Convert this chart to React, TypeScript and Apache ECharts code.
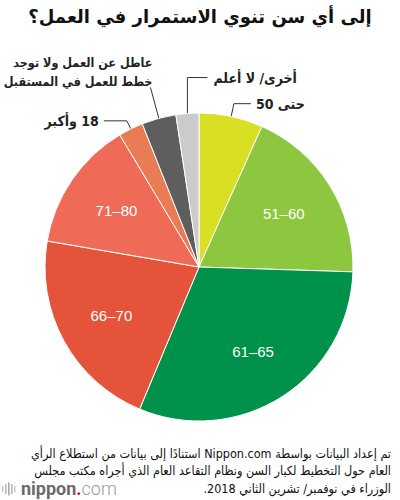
import React, { useEffect, useRef } from "react";
import * as echarts from "echarts";

const title = "إلى أي سن تنوي الاستمرار في العمل؟";
const categories = [
  "حتى 50",
  "51–60",
  "61–65",
  "66–70",
  "71–80",
  "18 وأكبر",
  "عاطل عن العمل ولا توجد\nخطط للعمل في المستقبل",
  "أخرى/ لا أعلم",
];
const values = [6.7, 18.8, 30.8, 21.4, 13.7, 2.6, 3.6, 2.4];
const colors = ["#d9df22", "#8dc63f", "#00924a", "#e4533a", "#f06b57", "#e97c55", "#5e5e5e", "#cbcbcb"];
const insideLabels = [1, 2, 3, 4];
const noteLines = [
  "تم إعداد البيانات بواسطة Nippon.com استنادًا إلى بيانات من استطلاع الرأي",
  "العام حول التخطيط لكبار السن ونظام التقاعد العام الذي أجراه مكتب مجلس",
  "الوزراء في نوفمبر/ تشرين الثاني 2018.",
];
const lineLengths = [
  [13, 17],
  [0, 0],
  [0, 0],
  [0, 0],
  [0, 0],
  [9, 23],
  [32, 0],
  [36, 20],
];

const rtl = (s: string) =>
  s
    .split("\n")
    .map((l) => "\u202B" + l + "\u202C")
    .join("\n");

const ARABIC = "'DejaVu Sans', sans-serif";
const ARABIC_C = "'DejaVu Sans Condensed', 'DejaVu Sans', sans-serif";

export default function App() {
  const ref = useRef<HTMLDivElement>(null);
  useEffect(() => {
    if (!ref.current) return;
    const chart = echarts.init(ref.current, null, { renderer: "svg" });
    const center = [199, 267];
    const r = 154;
    const mainData = values.map((v, i) => {
      const inside = insideLabels.includes(i);
      return {
        name: categories[i],
        value: v,
        itemStyle: { color: colors[i] },
        label: i === 6 ? { show: true, fontSize: 12.5, lineHeight: 19 } : { show: !inside },
        labelLine: { show: !inside, length: lineLengths[i][0], length2: lineLengths[i][1] },
      };
    });
    const labelData = values.map((v, i) => ({
      name: categories[i],
      value: v,
      label: { show: insideLabels.includes(i) },
    }));
    chart.setOption({
      animation: false,
      graphic: [
        {
          type: "text",
          x: 200,
          y: 16,
          style: {
            text: rtl(title),
            align: "center",
            verticalAlign: "middle",
            fontFamily: ARABIC,
            fontWeight: "bold",
            fontSize: 18,
            fill: "#111",
          },
        },
        {
          type: "text",
          x: 391,
          y: 470.5,
          style: {
            text: noteLines.map((l) => rtl(l)).join("\n"),
            align: "right",
            verticalAlign: "middle",
            fontFamily: ARABIC_C,
            fontSize: 12.5,
            lineHeight: 17.5,
            fill: "#111",
          },
        },
        {
          type: "group",
          x: 2,
          y: 489,
          children: [
            { type: "rect", shape: { x: 0, y: -3, width: 1.6, height: 6 }, style: { fill: "#ccc" } },
            { type: "rect", shape: { x: 3, y: -5, width: 1.6, height: 10 }, style: { fill: "#bbb" } },
            { type: "rect", shape: { x: 6, y: -6.5, width: 1.6, height: 13 }, style: { fill: "#aaa" } },
            { type: "rect", shape: { x: 9, y: -5, width: 1.6, height: 10 }, style: { fill: "#bbb" } },
            { type: "rect", shape: { x: 12, y: -3, width: 1.6, height: 6 }, style: { fill: "#ccc" } },
          ],
        },
        {
          type: "text",
          x: 21,
          y: 488,
          style: {
            text: "{a|nippon}{b|.}{c|com}",
            verticalAlign: "middle",
            rich: {
              a: { fontFamily: "Roboto", fontWeight: "bold", fontSize: 18, fill: "#6b6b6b" },
              b: { fontFamily: "Roboto", fontWeight: "bold", fontSize: 18, fill: "#e60012" },
              c: { fontFamily: "Roboto", fontWeight: 300, fontSize: 18, fill: "#9a9a9a" },
            },
          },
        },
      ],
      series: [
        {
          type: "pie",
          center,
          radius: r,
          startAngle: 90,
          clockwise: true,
          avoidLabelOverlap: false,
          silent: true,
          itemStyle: { borderColor: "#fff", borderWidth: 1 },
          label: {
            position: "outside",
            formatter: (p: any) => rtl(p.name),
            fontFamily: ARABIC_C,
            fontWeight: "bold",
            fontSize: 14,
            lineHeight: 20,
            color: "#222",
            distanceToLabelLine: 5,
          },
          labelLine: { lineStyle: { color: "#333", width: 1 } },
          labelLayout: (p: any) => {
            const pts = p.labelLinePoints;
            if (!pts) return {};
            const a = pts[0];
            const b = pts[1];
            if (p.dataIndex === 7) {
              const c = [a[0] + 20, b[1]];
              return {
                x: c[0] + 6,
                y: b[1],
                align: "left",
                verticalAlign: "middle",
                labelLinePoints: [a, [a[0], b[1]], c],
              };
            }
            if (p.dataIndex === 6) {
              return {
                x: b[0] + 2,
                y: b[1] + 4,
                align: "right",
                verticalAlign: "bottom",
                labelLinePoints: [a, b, b],
              };
            }
            return {};
          },
          data: mainData,
        },
        {
          type: "pie",
          center,
          radius: [40, r],
          startAngle: 90,
          clockwise: true,
          silent: true,
          avoidLabelOverlap: false,
          itemStyle: { color: "rgba(0,0,0,0)", borderWidth: 0 },
          label: {
            position: "inside",
            color: "#fff",
            fontFamily: "'Liberation Sans', Arial, sans-serif",
            fontSize: 15,
          },
          labelLine: { show: false },
          data: labelData,
        },
      ],
    });
    return () => chart.dispose();
  }, []);
  return <div ref={ref} style={{ position: "absolute", left: 0, top: 0, width: 400, height: 500 }} />;
}
